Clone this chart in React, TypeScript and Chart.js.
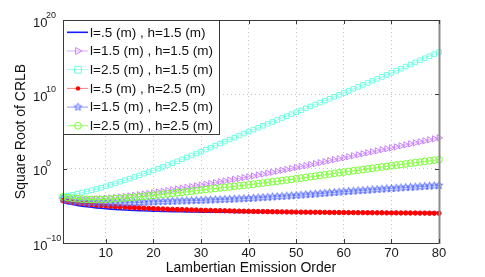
import React, { useEffect, useRef } from 'react';
import { Chart, registerables } from 'chart.js';

Chart.register(...registerables);

// ---- data (values given as log10 exponents of the square root of CRLB) ----
const X_VALUES = [
  1, 2, 3, 4, 5, 6, 7, 8, 9, 10, 11, 12, 13, 14, 15, 16, 17, 18, 19, 20,
  21, 22, 23, 24, 25, 26, 27, 28, 29, 30, 31, 32, 33, 34, 35, 36, 37, 38, 39, 40,
  41, 42, 43, 44, 45, 46, 47, 48, 49, 50, 51, 52, 53, 54, 55, 56, 57, 58, 59, 60,
  61, 62, 63, 64, 65, 66, 67, 68, 69, 70, 71, 72, 73, 74, 75, 76, 77, 78, 79, 80,
];

const SERIES_LABELS = [
  'l=.5 (m) , h=1.5 (m)',
  'l=1.5 (m) , h=1.5 (m)',
  'l=2.5 (m) , h=1.5 (m)',
  'l=.5 (m) , h=2.5 (m)',
  'l=1.5 (m) , h=2.5 (m)',
  'l=2.5 (m) , h=2.5 (m)',
];

const LOG_L05_H15 = [
  -4.55, -4.7, -4.83, -4.94, -5.04, -5.12, -5.2, -5.27, -5.33, -5.39,
  -5.44, -5.48, -5.52, -5.56, -5.59, -5.62, -5.65, -5.67, -5.69, -5.71,
  -5.73, -5.75, -5.76, -5.78, -5.79, -5.8, -5.81, -5.82, -5.83, -5.84,
  -5.85, -5.85, -5.86, -5.86, -5.87, -5.87, -5.88, -5.88, -5.88, -5.89,
  -5.89, -5.89, -5.89, -5.9, -5.9, -5.9, -5.9, -5.9, -5.9, -5.9,
  -5.9, -5.9, -5.9, -5.9, -5.9, -5.9, -5.9, -5.9, -5.9, -5.9,
  -5.9, -5.9, -5.9, -5.9, -5.9, -5.9, -5.9, -5.9, -5.9, -5.9,
  -5.9, -5.9, -5.9, -5.9, -5.9, -5.9, -5.9, -5.9, -5.9, -5.9,
];

const LOG_L15_H15 = [
  -3.9, -3.98, -4.04, -4.08, -4.1, -4.11, -4.1, -4.08, -4.05, -4.0,
  -3.94, -3.88, -3.81, -3.74, -3.66, -3.58, -3.5, -3.42, -3.34, -3.25,
  -3.15, -3.05, -2.95, -2.84, -2.73, -2.62, -2.52, -2.42, -2.31, -2.2,
  -2.09, -1.98, -1.87, -1.76, -1.65, -1.54, -1.43, -1.32, -1.21, -1.1,
  -0.98, -0.85, -0.73, -0.6, -0.48, -0.35, -0.22, -0.1, 0.03, 0.15,
  0.28, 0.41, 0.55, 0.68, 0.81, 0.94, 1.07, 1.21, 1.34, 1.47,
  1.6, 1.74, 1.87, 2.0, 2.14, 2.27, 2.4, 2.54, 2.67, 2.8,
  2.93, 3.07, 3.2, 3.34, 3.47, 3.61, 3.74, 3.88, 4.01, 4.15,
];

const LOG_L25_H15 = [
  -3.76, -3.64, -3.51, -3.37, -3.22, -3.07, -2.91, -2.74, -2.56, -2.37,
  -2.17, -1.97, -1.76, -1.55, -1.34, -1.12, -0.9, -0.68, -0.46, -0.23,
  0.0, 0.24, 0.49, 0.74, 0.99, 1.25, 1.51, 1.77, 2.03, 2.29,
  2.56, 2.83, 3.1, 3.37, 3.64, 3.91, 4.18, 4.45, 4.72, 4.99,
  5.25, 5.51, 5.77, 6.03, 6.29, 6.55, 6.81, 7.07, 7.33, 7.59,
  7.85, 8.11, 8.37, 8.63, 8.89, 9.15, 9.41, 9.67, 9.93, 10.19,
  10.46, 10.73, 11.0, 11.27, 11.54, 11.81, 12.08, 12.35, 12.62, 12.89,
  13.17, 13.45, 13.73, 14.01, 14.29, 14.57, 14.85, 15.13, 15.41, 15.69,
];

const LOG_L05_H25 = [
  -4.3, -4.42, -4.52, -4.61, -4.69, -4.76, -4.83, -4.89, -4.95, -5.0,
  -5.05, -5.09, -5.13, -5.17, -5.21, -5.25, -5.28, -5.31, -5.34, -5.37,
  -5.4, -5.42, -5.45, -5.47, -5.49, -5.51, -5.53, -5.55, -5.57, -5.59,
  -5.61, -5.62, -5.64, -5.65, -5.67, -5.68, -5.7, -5.71, -5.72, -5.74,
  -5.75, -5.76, -5.77, -5.78, -5.79, -5.8, -5.81, -5.82, -5.83, -5.84,
  -5.85, -5.85, -5.86, -5.87, -5.87, -5.88, -5.89, -5.89, -5.9, -5.9,
  -5.91, -5.91, -5.92, -5.92, -5.93, -5.93, -5.94, -5.94, -5.95, -5.95,
  -5.95, -5.96, -5.96, -5.97, -5.97, -5.98, -5.98, -5.99, -5.99, -6.0,
];

const LOG_L15_H25 = [
  -4.1, -4.25, -4.36, -4.44, -4.5, -4.55, -4.58, -4.6, -4.62, -4.63,
  -4.63, -4.63, -4.62, -4.61, -4.59, -4.57, -4.55, -4.52, -4.49, -4.46,
  -4.44, -4.42, -4.4, -4.38, -4.36, -4.34, -4.32, -4.3, -4.28, -4.26,
  -4.23, -4.21, -4.18, -4.16, -4.13, -4.11, -4.08, -4.06, -4.03, -4.0,
  -3.96, -3.92, -3.88, -3.84, -3.8, -3.76, -3.72, -3.68, -3.64, -3.6,
  -3.55, -3.5, -3.45, -3.4, -3.35, -3.3, -3.25, -3.2, -3.15, -3.1,
  -3.06, -3.02, -2.97, -2.93, -2.88, -2.84, -2.79, -2.75, -2.7, -2.66,
  -2.62, -2.58, -2.54, -2.5, -2.46, -2.42, -2.38, -2.34, -2.3, -2.26,
];

const LOG_L25_H25 = [
  -3.8, -3.9, -3.98, -4.05, -4.1, -4.13, -4.15, -4.15, -4.14, -4.12,
  -4.08, -4.04, -3.99, -3.94, -3.89, -3.84, -3.78, -3.72, -3.66, -3.6,
  -3.53, -3.46, -3.39, -3.32, -3.25, -3.18, -3.11, -3.03, -2.95, -2.87,
  -2.8, -2.73, -2.66, -2.59, -2.52, -2.45, -2.38, -2.31, -2.24, -2.17,
  -2.09, -2.01, -1.93, -1.85, -1.77, -1.69, -1.61, -1.53, -1.45, -1.36,
  -1.27, -1.18, -1.09, -1.0, -0.91, -0.82, -0.73, -0.64, -0.55, -0.46,
  -0.38, -0.29, -0.21, -0.12, -0.04, 0.05, 0.13, 0.22, 0.3, 0.39,
  0.47, 0.56, 0.64, 0.73, 0.81, 0.89, 0.98, 1.06, 1.14, 1.22,
];

const X_TICKS = [10, 20, 30, 40, 50, 60, 70, 80];
const Y_TICK_EXPONENTS = [-10, 0, 10, 20];
const X_MIN = 1;
const X_MAX = 80;

const X_TITLE = 'Lambertian Emission Order';
const Y_TITLE = 'Square Root of CRLB';

const FONT = '"Liberation Sans", Arial, Helvetica, sans-serif';

function makeStar(color: string, r: number): HTMLCanvasElement {
  const s = Math.ceil(r * 2 + 3);
  const c = document.createElement('canvas');
  c.width = s;
  c.height = s;
  const g = c.getContext('2d')!;
  g.strokeStyle = color;
  g.lineWidth = 1;
  g.beginPath();
  for (let k = 0; k < 10; k++) {
    const ang = -Math.PI / 2 + (k * Math.PI) / 5;
    const rr = k % 2 === 0 ? r : r * 0.42;
    const px = s / 2 + rr * Math.cos(ang);
    const py = s / 2 + rr * Math.sin(ang);
    if (k === 0) g.moveTo(px, py);
    else g.lineTo(px, py);
  }
  g.closePath();
  g.stroke();
  return c;
}

type Marker = {
  kind: 'none' | 'triangleRight' | 'rect' | 'dot' | 'star' | 'circle';
  color: string;
  r: number;
};

function drawMarker(ctx: CanvasRenderingContext2D, m: Marker, x: number, y: number, star?: HTMLCanvasElement) {
  ctx.save();
  ctx.strokeStyle = m.color;
  ctx.fillStyle = m.color;
  ctx.lineWidth = 1;
  ctx.beginPath();
  if (m.kind === 'triangleRight') {
    ctx.moveTo(x + m.r, y);
    ctx.lineTo(x - m.r * 0.6, y - m.r * 0.85);
    ctx.lineTo(x - m.r * 0.6, y + m.r * 0.85);
    ctx.closePath();
    ctx.stroke();
  } else if (m.kind === 'rect') {
    ctx.rect(x - m.r * 0.75, y - m.r * 0.75, m.r * 1.5, m.r * 1.5);
    ctx.stroke();
  } else if (m.kind === 'dot') {
    ctx.arc(x, y, m.r, 0, Math.PI * 2);
    ctx.fill();
  } else if (m.kind === 'circle') {
    ctx.arc(x, y, m.r, 0, Math.PI * 2);
    ctx.stroke();
  } else if (m.kind === 'star' && star) {
    ctx.drawImage(star, x - star.width / 2, y - star.height / 2);
  }
  ctx.restore();
}

export default function App() {
  const canvasRef = useRef<HTMLCanvasElement | null>(null);

  useEffect(() => {
    const canvas = canvasRef.current;
    if (!canvas) return;

    const starImg = makeStar('rgb(90,110,255)', 4);

    const seriesLogs = [LOG_L05_H15, LOG_L15_H15, LOG_L25_H15, LOG_L05_H25, LOG_L15_H25, LOG_L25_H25];
    const lineColors = [
      'rgb(20,30,255)',
      'rgb(220,170,255)',
      'rgb(150,255,235)',
      'rgb(255,130,130)',
      'rgb(140,155,255)',
      'rgb(150,255,90)',
    ];
    const lineWidths = [1.6, 1, 1, 1, 1, 1];
    const markers: Marker[] = [
      { kind: 'none', color: 'rgb(20,30,255)', r: 0 },
      { kind: 'triangleRight', color: 'rgb(200,130,255)', r: 4 },
      { kind: 'rect', color: 'rgb(110,255,225)', r: 4.5 },
      { kind: 'dot', color: 'rgb(255,0,0)', r: 2.2 },
      { kind: 'star', color: 'rgb(90,110,255)', r: 4 },
      { kind: 'circle', color: 'rgb(120,255,50)', r: 3.4 },
    ];
    const pointStyles: any[] = ['circle', 'triangle', 'rect', 'circle', starImg, 'circle'];
    const pointRadii = [0, 3.6, 3.2, 2.2, 4, 3.4];
    const pointRotations = [0, 90, 0, 0, 0, 0];

    const datasets = seriesLogs.map((logs, i) => ({
      label: SERIES_LABELS[i],
      data: X_VALUES.map((xv, j) => ({ x: xv, y: Math.pow(10, logs[j]) })),
      borderColor: lineColors[i],
      borderWidth: lineWidths[i],
      backgroundColor: markers[i].kind === 'dot' ? markers[i].color : 'rgba(0,0,0,0)',
      pointStyle: pointStyles[i],
      pointRadius: pointRadii[i],
      pointRotation: pointRotations[i],
      pointBorderColor: markers[i].color,
      pointBackgroundColor: markers[i].kind === 'dot' ? markers[i].color : 'rgba(0,0,0,0)',
      pointBorderWidth: 1,
      tension: 0,
      fill: false,
      clip: false as any,
      order: -i,
    }));

    const framePlugin = {
      id: 'frameAndLabels',
      afterDatasetsDraw(chart: any) {
        const ctx: CanvasRenderingContext2D = chart.ctx;
        const { left, right, top, bottom } = chart.chartArea;
        const xs = chart.scales.x;
        const ys = chart.scales.y;
        ctx.save();
        // frame
        ctx.strokeStyle = '#3a3a3a';
        ctx.lineWidth = 1;
        ctx.beginPath();
        ctx.moveTo(left + 0.5, top + 0.5);
        ctx.lineTo(left + 0.5, bottom + 0.5);
        ctx.lineTo(right + 0.5, bottom + 0.5);
        ctx.moveTo(left + 0.5, top + 0.5);
        ctx.lineTo(right + 0.5, top + 0.5);
        ctx.stroke();
        ctx.strokeStyle = '#8a8a8a';
        ctx.lineWidth = 2;
        ctx.beginPath();
        ctx.moveTo(right + 0.5, top);
        ctx.lineTo(right + 0.5, bottom + 1);
        ctx.stroke();
        // inward tick marks
        ctx.strokeStyle = '#3a3a3a';
        ctx.lineWidth = 1;
        ctx.beginPath();
        X_TICKS.forEach((v) => {
          const px = Math.round(xs.getPixelForValue(v)) + 0.5;
          ctx.moveTo(px, bottom);
          ctx.lineTo(px, bottom - 4);
          ctx.moveTo(px, top);
          ctx.lineTo(px, top + 4);
        });
        Y_TICK_EXPONENTS.forEach((e) => {
          const py = Math.round(ys.getPixelForValue(Math.pow(10, e))) + 0.5;
          ctx.moveTo(left, py);
          ctx.lineTo(left + 4, py);
          ctx.moveTo(right, py);
          ctx.lineTo(right - 4, py);
        });
        ctx.stroke();
        ctx.restore();
      },
      afterDraw(chart: any) {
        const ctx: CanvasRenderingContext2D = chart.ctx;
        const { left, top } = chart.chartArea;
        const ys = chart.scales.y;
        ctx.save();
        // y tick labels with superscript exponents
        ctx.fillStyle = '#1a1a1a';
        ctx.textBaseline = 'alphabetic';
        Y_TICK_EXPONENTS.forEach((e) => {
          const py = ys.getPixelForValue(Math.pow(10, e));
          ctx.font = `13px ${FONT}`;
          ctx.textAlign = 'left';
          ctx.fillText('10', 33, py + 6.5);
          ctx.font = `9px ${FONT}`;
          ctx.fillText(e < 0 ? '\u2212' + Math.abs(e) : String(e), 46, py - 2.5);
        });
        // legend inside the plot
        const w = 157;
        const h = 115;
        ctx.fillStyle = '#ffffff';
        ctx.fillRect(left, top, w, h);
        ctx.strokeStyle = '#3a3a3a';
        ctx.lineWidth = 1;
        ctx.strokeRect(left + 0.5, top + 0.5, w - 1, h - 1);
        chart.data.datasets.forEach((ds: any, i: number) => {
          const y = top + 12.3 + i * 18.7;
          ctx.strokeStyle = ds.borderColor;
          ctx.lineWidth = ds.borderWidth;
          ctx.beginPath();
          ctx.moveTo(left + 4, y);
          ctx.lineTo(left + 25, y);
          ctx.stroke();
          drawMarker(ctx, markers[i], left + 15, y, starImg);
          ctx.fillStyle = '#111111';
          ctx.font = `13.5px ${FONT}`;
          ctx.textAlign = 'left';
          ctx.textBaseline = 'middle';
          ctx.fillText(ds.label, left + 27, y + 0.5);
        });
        ctx.restore();
      },
    };

    const chart = new Chart(canvas, {
      type: 'line',
      data: { datasets: datasets as any },
      options: {
        animation: false,
        responsive: false,
        maintainAspectRatio: false,
        devicePixelRatio: 1,
        layout: { padding: { top: 20, right: 46, left: 0, bottom: 0 } },
        plugins: {
          legend: { display: false },
          tooltip: { enabled: false },
        },
        scales: {
          x: {
            type: 'linear',
            min: X_MIN,
            max: X_MAX,
            afterBuildTicks: (scale: any) => {
              scale.ticks = X_TICKS.map((v) => ({ value: v }));
            },
            afterFit: (scale: any) => {
              scale.height = 34;
            },
            grid: {
              color: 'rgba(190,190,190,0.9)',
              lineWidth: 1,
              drawTicks: false,
            },
            border: { display: false, dash: [1, 3] },
            ticks: {
              padding: 3,
              color: '#1a1a1a',
              font: { size: 13, family: FONT },
              maxRotation: 0,
              autoSkip: false,
              callback: (v: any) => String(v),
            },
            title: {
              display: true,
              text: X_TITLE,
              color: '#111111',
              font: { size: 14, family: FONT },
              padding: { top: 0, bottom: 0.6 },
            },
          },
          y: {
            type: 'logarithmic',
            min: Math.pow(10, Y_TICK_EXPONENTS[0]),
            max: Math.pow(10, Y_TICK_EXPONENTS[Y_TICK_EXPONENTS.length - 1]),
            afterBuildTicks: (scale: any) => {
              scale.ticks = Y_TICK_EXPONENTS.map((e) => ({ value: Math.pow(10, e) }));
            },
            afterFit: (scale: any) => {
              scale.width = 63;
            },
            grid: {
              color: 'rgba(190,190,190,0.9)',
              lineWidth: 1,
              drawTicks: false,
            },
            border: { display: false, dash: [1, 3] },
            ticks: { display: false },
            title: {
              display: true,
              text: Y_TITLE,
              color: '#111111',
              font: { size: 14, family: FONT },
              padding: { top: 13, bottom: 0 },
            },
          },
        },
      },
      plugins: [framePlugin],
    });

    return () => {
      chart.destroy();
    };
  }, []);

  return (
    <div style={{ position: 'absolute', left: 0, top: 0, width: 485, height: 277, background: '#ffffff' }}>
      <canvas ref={canvasRef} width={485} height={277} style={{ display: 'block', width: 485, height: 277 }} />
    </div>
  );
}
